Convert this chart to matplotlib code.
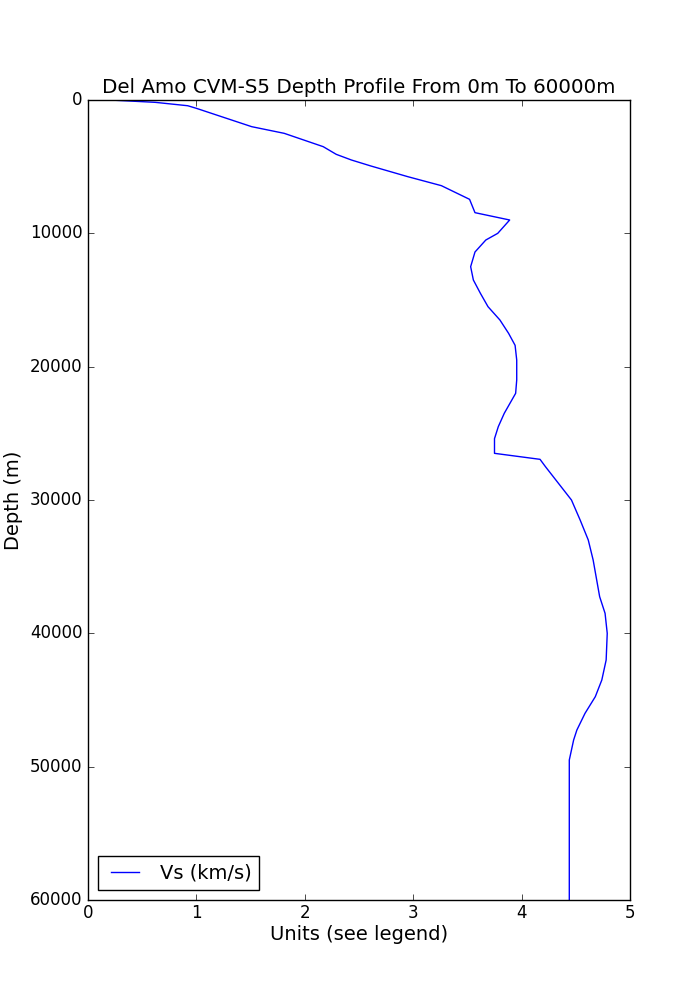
import matplotlib
matplotlib.use("Agg")
import matplotlib.pyplot as plt

# Vs profile (km/s vs depth in m)
VS = [0.20, 0.62, 0.92, 1.00, 1.51, 1.81, 2.17, 2.29, 2.43, 2.61, 2.95, 3.26,
      3.52, 3.57, 3.89, 3.78, 3.67, 3.57, 3.53, 3.555, 3.62, 3.69, 3.80, 3.88,
      3.94, 3.955, 3.955, 3.945, 3.84, 3.785, 3.75, 3.75, 4.17, 4.22, 4.46,
      4.54, 4.615, 4.66, 4.72, 4.77, 4.79, 4.78, 4.74, 4.68, 4.585, 4.51, 4.48,
      4.44, 4.44]
DEPTH = [0, 175, 430, 625, 2000, 2500, 3500, 4075, 4500, 4950, 5750, 6425,
         7450, 8450, 9000, 10000, 10500, 11400, 12500, 13500, 14500, 15500,
         16500, 17500, 18400, 19500, 21000, 22000, 23500, 24500, 25400, 26500,
         26950, 27500, 30000, 31500, 33000, 34500, 37250, 38500, 40000, 42000,
         43500, 44750, 46000, 47250, 48000, 49500, 60000]

TITLE = "Del Amo CVM-S5 Depth Profile From 0m To 60000m"


def main():
    plt.style.use("classic")
    fig = plt.figure(figsize=(7, 10), dpi=100, facecolor="white")
    ax = fig.add_axes([0.1257, 0.1, 0.7743, 0.8])

    ax.plot(VS, DEPTH, color="b", label="Vs (km/s)")

    ax.set_xlim(0, 5)
    ax.set_ylim(60000, 0)
    ax.set_xticks(range(0, 6))
    ax.set_yticks(range(0, 60001, 10000))
    ax.tick_params(labelsize=12)
    ax.tick_params(axis="x", pad=3)
    ax.set_xlabel("Units (see legend)", fontsize=14, labelpad=2)
    ax.set_ylabel("Depth (m)", fontsize=14)
    ax.set_title(TITLE, fontsize=14.3)
    ax.legend(loc="lower left", fontsize=14)

    fig.savefig("out.png", dpi=100, facecolor="white")
    plt.close(fig)


if __name__ == "__main__":
    main()
